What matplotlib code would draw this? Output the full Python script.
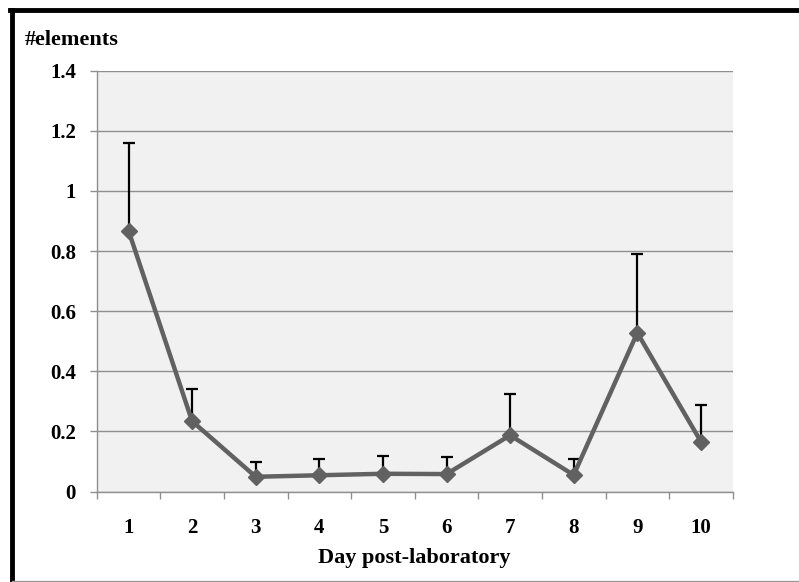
import matplotlib
matplotlib.use("Agg")
import matplotlib.pyplot as plt
from matplotlib.lines import Line2D

days = ["1", "2", "3", "4", "5", "6", "7", "8", "9", "10"]
means = [0.868, 0.234, 0.049, 0.054, 0.059, 0.058, 0.187, 0.055, 0.528, 0.166]
err_upper = [0.290, 0.108, 0.048, 0.055, 0.058, 0.058, 0.136, 0.054, 0.261, 0.123]
y_ticks = [0, 0.2, 0.4, 0.6, 0.8, 1.0, 1.2, 1.4]
y_tick_labels = ["0", "0.2", "0.4", "0.6", "0.8", "1", "1.2", "1.4"]

plt.rcParams['font.family'] = ['Liberation Serif', 'DejaVu Serif']
plt.rcParams['font.weight'] = 'bold'

W, H = 799, 582
fig = plt.figure(figsize=(W / 100, H / 100), dpi=100)
fig.patch.set_facecolor('white')

left, right, top, bottom = 96.7, 732.7, 70.7, 491.5
ax = fig.add_axes([left / W, 1 - bottom / H, (right - left) / W, (bottom - top) / H])
ax.set_facecolor('#f1f1f1')

x = list(range(1, len(days) + 1))
ax.errorbar(x, means, yerr=[[0] * len(means), err_upper], fmt='none',
            ecolor='black', elinewidth=1.6, capsize=4, capthick=1.6, zorder=2)
ax.plot(x, means, color='#616161', linewidth=3.2, marker='D', markersize=8,
        markerfacecolor='#616161', markeredgecolor='#616161', zorder=3)

ax.set_xlim(0.5, len(days) + 0.5)
ax.set_ylim(0, 1.4)
ax.set_yticks(y_ticks)
ax.set_yticklabels(y_tick_labels)
ax.grid(axis='y', color='#8f8f8f', linewidth=1.0, zorder=1)
ax.set_axisbelow(True)

ax.set_xticks(x)
ax.set_xticklabels(days)
ax.set_xticks([i + 0.5 for i in range(0, len(days) + 1)], minor=True)
ax.tick_params(axis='x', which='major', length=0, pad=19, labelsize=15)
ax.tick_params(axis='x', which='minor', length=5, width=1, color='#8f8f8f', direction='out')
ax.tick_params(axis='y', which='major', length=5, width=1, color='#8f8f8f', direction='out',
               pad=10, labelsize=15)

for s in ['top', 'right']:
    ax.spines[s].set_visible(False)
for s in ['left', 'bottom']:
    ax.spines[s].set_color('#8f8f8f')
    ax.spines[s].set_linewidth(1.0)

ax.set_xlabel('Day post-laboratory', fontsize=16, fontweight='bold')
ax.xaxis.set_label_coords(0.5, (bottom - 563) / (bottom - top))
ax.xaxis.label.set_va('baseline')

ax.set_ylabel('#elements', fontsize=16, fontweight='bold', rotation=0, ha='left', va='baseline')
ax.yaxis.set_label_coords((25 - left) / (right - left), (bottom - 45) / (bottom - top))

# Frame around the figure (screenshot border)
fig.add_artist(Line2D([12 / W, 12 / W], [0, 1 - 10 / H], color='black', linewidth=3.5,
                      transform=fig.transFigure))
fig.add_artist(Line2D([10.3 / W, 1], [1 - 10 / H, 1 - 10 / H], color='black', linewidth=3.5,
                      transform=fig.transFigure))
fig.add_artist(Line2D([12 / W, 1], [1 - 580.5 / H, 1 - 580.5 / H], color='#9a9a9a', linewidth=1.0,
                      transform=fig.transFigure))

fig.savefig('out.png', dpi=100)
